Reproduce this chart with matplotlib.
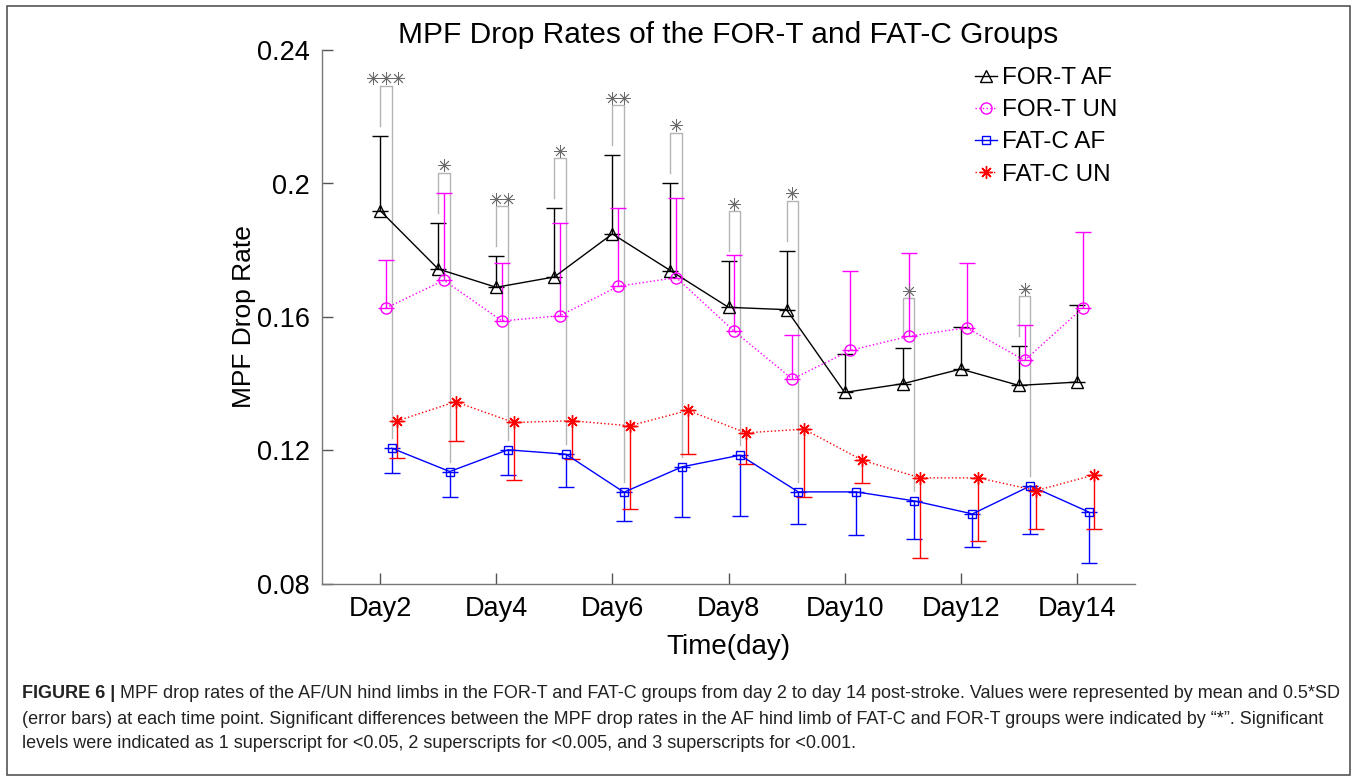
import numpy as np
import matplotlib
matplotlib.use("Agg")
import matplotlib.pyplot as plt
from matplotlib.patches import Rectangle

plt.rcParams["font.family"] = ["Liberation Sans", "DejaVu Sans"]

# MPF drop rate, mean and 0.5*SD, day 2 .. day 14
days = np.arange(2, 15)
tick_days = [2, 4, 6, 8, 10, 12, 14]
tick_labels = ["Day2", "Day4", "Day6", "Day8", "Day10", "Day12", "Day14"]

fort_af = [0.1919, 0.1744, 0.1689, 0.1720, 0.1849, 0.1739, 0.1629, 0.1622, 0.1374, 0.1400, 0.1444, 0.1395, 0.1405]
fort_af_err = [0.0224, 0.0138, 0.0093, 0.0206, 0.0236, 0.0263, 0.0139, 0.0177, 0.0114, 0.0106, 0.0126, 0.0117, 0.0230]

fort_un = [0.1627, 0.1710, 0.1588, 0.1604, 0.1692, 0.1718, 0.1557, 0.1414, 0.1500, 0.1542, 0.1568, 0.1470, 0.1627]
fort_un_err = [0.0143, 0.0262, 0.0175, 0.0279, 0.0236, 0.0238, 0.0230, 0.0133, 0.0239, 0.0249, 0.0195, 0.0105, 0.0227]

fatc_af = [0.1207, 0.1137, 0.1202, 0.1189, 0.1075, 0.1151, 0.1186, 0.1076, 0.1076, 0.1049, 0.1010, 0.1094, 0.1016]
fatc_af_err = [0.0075, 0.0077, 0.0075, 0.0098, 0.0087, 0.0151, 0.0181, 0.0097, 0.0130, 0.0113, 0.0098, 0.0143, 0.0152]

fatc_un = [0.1289, 0.1346, 0.1284, 0.1289, 0.1274, 0.1320, 0.1253, 0.1264, 0.1171, 0.1118, 0.1118, 0.1080, 0.1127]
fatc_un_err = [0.0111, 0.0119, 0.0171, 0.0114, 0.0248, 0.0129, 0.0092, 0.0202, 0.0068, 0.0241, 0.0190, 0.0115, 0.0162]

# number of significance stars (AF, FAT-C vs FOR-T)
sig_stars = [3, 1, 2, 1, 2, 1, 1, 1, 0, 1, 0, 1, 0]

W, H = 1357, 777
fig = plt.figure(figsize=(W / 100, H / 100), dpi=100)
ax = fig.add_axes([322 / W, 1 - 584 / H, (1135 - 322) / W, (584 - 50) / H])

zeros = np.zeros(len(days))
kw = dict(capsize=5.5, elinewidth=1.0, capthick=1.0, linewidth=1.0, markerfacecolor="none",
          markeredgewidth=1.0)

h1 = ax.errorbar(days, fort_af, yerr=[zeros, fort_af_err], color="black", marker="^",
                 markersize=8, linestyle="-", **kw)
h2 = ax.errorbar(days + 0.1, fort_un, yerr=[zeros, fort_un_err], color="magenta", marker="o",
                 markersize=8, linestyle=":", **kw)
h3 = ax.errorbar(days + 0.2, fatc_af, yerr=[fatc_af_err, zeros], color="blue", marker="s",
                 markersize=6, linestyle="-", **kw)
h4 = ax.errorbar(days + 0.3, fatc_un, yerr=[fatc_un_err, zeros], color="red", marker=(8, 2, 0),
                 markersize=9, linestyle=":", **kw)

# significance brackets between FOR-T AF and FAT-C AF
for d, m, e, b, n in zip(days, fort_af, fort_af_err, fatc_af, sig_stars):
    if n == 0:
        continue
    top = m + e + 0.015
    ax.plot([d, d, d + 0.2, d + 0.2], [m + e + 0.003, top, top, b + 0.003],
            color="#b4b4b4", linewidth=1.0, zorder=1)
    xs = d + 0.1 + (np.arange(n) - (n - 1) / 2) * 0.215
    ax.plot(xs, [top + 0.0022] * n, linestyle="none", marker=(8, 2, 0), markersize=9,
            color="#6a6a6a", markeredgewidth=0.6)

ax.set_xlim(1, 15)
ax.set_ylim(0.08, 0.24)
ax.set_xticks(tick_days)
ax.set_xticklabels(tick_labels)
ax.set_yticks([0.08, 0.12, 0.16, 0.2, 0.24])
ax.set_yticklabels(["0.08", "0.12", "0.16", "0.2", "0.24"])
ax.tick_params(direction="in", length=8, width=1.0, colors="#555555", labelcolor="black",
               labelsize=19.5, pad=9)
for s in ["top", "right"]:
    ax.spines[s].set_visible(False)
for s in ["left", "bottom"]:
    ax.spines[s].set_color("#777777")
    ax.spines[s].set_linewidth(1.0)

ax.set_title("MPF Drop Rates of the FOR-T and FAT-C Groups", fontsize=21.5, pad=5)
ax.set_xlabel("Time(day)", fontsize=20, labelpad=8)
ax.set_ylabel("MPF Drop Rate", fontsize=19, labelpad=0)

ax.legend([h1[0], h2[0], h3[0], h4[0]], ["FOR-T AF", "FOR-T UN", "FAT-C AF", "FAT-C UN"],
          loc="upper left", bbox_to_anchor=(975 / W, 1 - 67 / H), bbox_transform=fig.transFigure,
          frameon=False, fontsize=17.5, handlelength=0.9, handletextpad=0.2, labelspacing=0.42,
          borderpad=0, borderaxespad=0)

# frame and caption
fig.add_artist(Rectangle((7 / W, 1 - 775 / H), (1350 - 7) / W, (775 - 6) / H,
                         transform=fig.transFigure, fill=False, edgecolor="#555555", linewidth=1.2))

cap_size = 13.0
lines = [
    "MPF drop rates of the AF/UN hind limbs in the FOR-T and FAT-C groups from day 2 to day 14 post-stroke. Values were represented by mean and 0.5*SD",
    "(error bars) at each time point. Significant differences between the MPF drop rates in the AF hind limb of FAT-C and FOR-T groups were indicated by \u201c*\u201d. Significant",
    "levels were indicated as 1 superscript for <0.05, 2 superscripts for <0.005, and 3 superscripts for <0.001.",
]
bold = fig.text(22 / W, 1 - 693 / H, "FIGURE 6 | ", fontsize=cap_size, fontweight="bold",
                va="center", color="#222222")
fig.canvas.draw()
bb = bold.get_window_extent()
fig.text(bb.x1 / W, 1 - 693 / H, lines[0], fontsize=cap_size, va="center", color="#222222")
fig.text(22 / W, 1 - 719 / H, lines[1], fontsize=cap_size, va="center", color="#222222")
fig.text(22 / W, 1 - 744 / H, lines[2], fontsize=cap_size, va="center", color="#222222")

fig.savefig("out.png", dpi=100)
